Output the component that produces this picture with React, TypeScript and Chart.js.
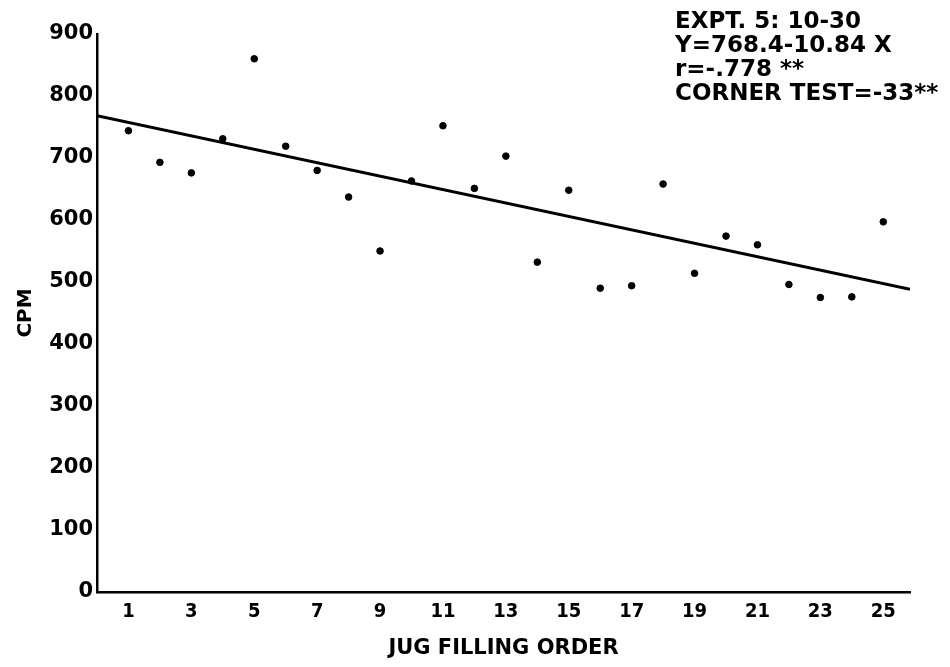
import React, { useEffect, useRef } from "react";
import { Chart, registerables } from "chart.js";

Chart.register(...registerables);

// Data
const jugOrder = [1, 2, 3, 4, 5, 6, 7, 8, 9, 10, 11, 12, 13, 14, 15, 16, 17, 18, 19, 20, 21, 22, 23, 24, 25];
const cpm = [744, 693, 676, 731, 860, 719, 680, 637, 550, 663, 752, 651, 703, 532, 648, 490, 494, 658, 514, 574, 560, 496, 475, 476, 597];

// Regression line end points (Y = 768.4 - 10.84 X), as drawn in the figure
const fitX = [0, 25.85];
const fitY = [768.4, 488.2];

const xTickValues = [1, 3, 5, 7, 9, 11, 13, 15, 17, 19, 21, 23, 25];
const yTickValues = [0, 100, 200, 300, 400, 500, 600, 700, 800, 900];

const xTitle = "JUG FILLING ORDER";
const yTitle = "CPM";
const annotationLines = ["EXPT. 5: 10-30", "Y=768.4-10.84 X", "r=-.778 **", "CORNER TEST=-33**"];

const FONT = "'DejaVu Sans', 'Liberation Sans', sans-serif";
const FONT_COND = "'DejaVu Sans Condensed', 'DejaVu Sans', sans-serif";

const annotationPlugin = {
  id: "annotationText",
  afterDraw(chart: any) {
    const ctx = chart.ctx;
    ctx.save();
    ctx.fillStyle = "#000";
    ctx.font = `bold 23px ${FONT}`;
    ctx.textAlign = "left";
    ctx.textBaseline = "alphabetic";
    const x = chart.width - 275;
    annotationLines.forEach((line, i) => {
      ctx.fillText(line, x, 28 + i * 24);
    });
    ctx.restore();
  },
};

export default function App() {
  const canvasRef = useRef<HTMLCanvasElement | null>(null);

  useEffect(() => {
    if (!canvasRef.current) return;
    const chart = new Chart(canvasRef.current, {
      type: "scatter",
      data: {
        datasets: [
          {
            label: "CPM",
            data: jugOrder.map((x, i) => ({ x, y: cpm[i] })),
            backgroundColor: "#000",
            borderColor: "#000",
            pointRadius: 3.3,
            pointHoverRadius: 3.3,
            showLine: false,
          },
          {
            label: "Regression",
            data: fitX.map((x, i) => ({ x, y: fitY[i] })),
            borderColor: "#000",
            borderWidth: 3,
            pointRadius: 0,
            showLine: true,
            fill: false,
          },
        ],
      },
      options: {
        responsive: false,
        animation: false,
        layout: { padding: { top: 34, right: 40, left: 0, bottom: 0 } },
        plugins: {
          legend: { display: false },
          tooltip: { enabled: false },
          title: { display: false },
        },
        scales: {
          x: {
            type: "linear",
            min: 0,
            max: 25.85,
            grid: { display: false, drawTicks: false },
            border: { display: true, color: "#000", width: 2.5 },
            afterBuildTicks: (scale: any) => {
              scale.ticks = xTickValues.map((v) => ({ value: v }));
            },
            afterFit: (scale: any) => {
              scale.height = 75;
            },
            ticks: {
              color: "#000",
              padding: 8,
              autoSkip: false,
              maxRotation: 0,
              font: { family: FONT_COND, size: 20, weight: "bold" },
              callback: (v: any) => String(v),
            },
            title: {
              display: true,
              text: xTitle,
              color: "#000",
              padding: { top: 0, bottom: 6 },
              font: { family: FONT, size: 21, weight: "bold" },
            },
          },
          y: {
            type: "linear",
            min: 0,
            max: 900,
            grid: { display: false, drawTicks: false },
            border: { display: true, color: "#000", width: 2.5 },
            afterBuildTicks: (scale: any) => {
              scale.ticks = yTickValues.map((v) => ({ value: v }));
            },
            afterFit: (scale: any) => {
              scale.width = 97;
            },
            ticks: {
              color: "#000",
              padding: 4,
              font: { family: FONT, size: 21, weight: "bold" },
              callback: (v: any) => String(v),
            },
            title: {
              display: true,
              text: yTitle,
              color: "#000",
              padding: { top: 14, bottom: 0 },
              font: { family: FONT, size: 20, weight: "bold" },
            },
          },
        },
      },
      plugins: [annotationPlugin],
    });
    return () => chart.destroy();
  }, []);

  return (
    <div style={{ position: "fixed", left: 0, top: 0, width: 950, height: 667, background: "#fff" }}>
      <canvas ref={canvasRef} width={950} height={667} style={{ display: "block" }} />
    </div>
  );
}
